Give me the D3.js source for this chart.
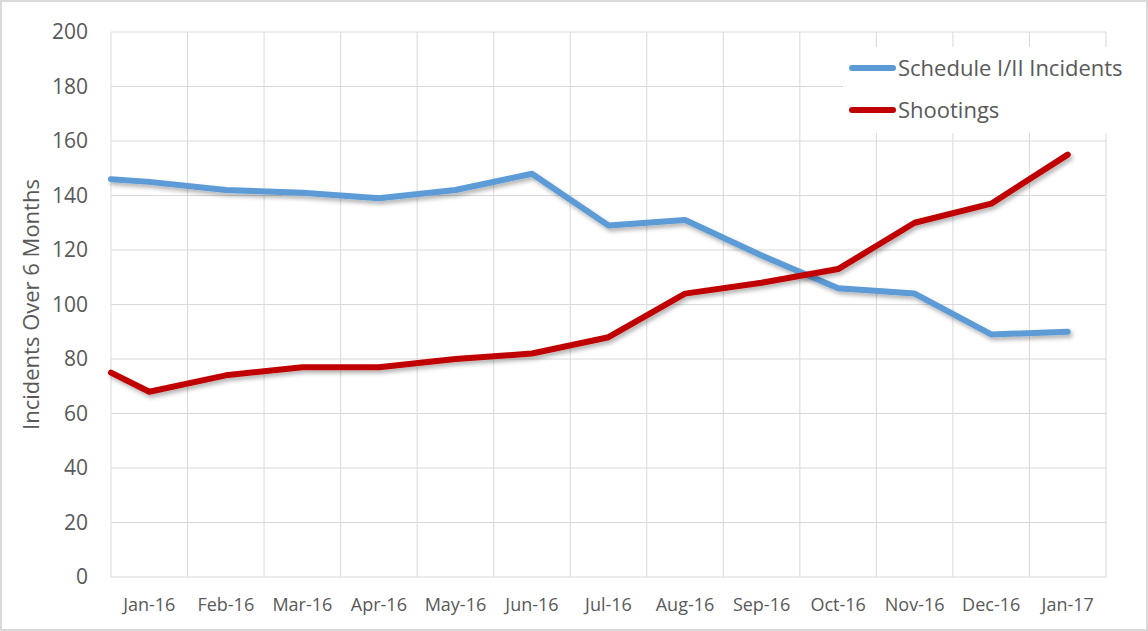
<!DOCTYPE html>
<html>
<head>
<meta charset="utf-8">
<title>Incidents Over 6 Months</title>
<style type="text/css">
	body { margin: 0; background: #fff; }
	svg { display: block; font-family: "Open Sans", sans-serif; }
	.grid line { stroke: #d9d9d9; stroke-width: 1; }
	.tick-label { fill: #595959; }
</style>
<script src="https://cdn.jsdelivr.net/npm/d3@7/dist/d3.min.js"></script>
</head>
<body>
<div id="chart"></div>
<script type="text/javascript">
// month labels on the x axis
var months = ["Jan-16", "Feb-16", "Mar-16", "Apr-16", "May-16", "Jun-16", "Jul-16",
	"Aug-16", "Sep-16", "Oct-16", "Nov-16", "Dec-16", "Jan-17"];
// where each point sits, in months (0 = Jan-16); first point is on the axis edge
var pointMonth = [-0.5, 0, 1, 2, 3, 4, 5, 6, 7, 8, 9, 10, 11, 12];
var schedule = [146, 145, 142, 141, 139, 142, 148, 129, 131, 118, 106, 104, 89, 90];
var shootings = [75, 68, 74, 77, 77, 80, 82, 88, 104, 108, 113, 130, 137, 155];
var yTicks = [0, 20, 40, 60, 80, 100, 120, 140, 160, 180, 200];

var series = [
	{ name: "Schedule I/II Incidents", values: schedule, color: "#5b9bd5" },
	{ name: "Shootings", values: shootings, color: "#c00000" }
];

var width = 1148, height = 631;
// plot area (note: "top" is taken by window.top, so prefix these)
var plotLeft = 111, plotRight = 1106, plotTop = 32, plotBottom = 577;

var svg = d3.select("#chart").append("svg")
	.attr("width", width)
	.attr("height", height);

// outer border
svg.append("rect")
	.attr("x", 1).attr("y", 1)
	.attr("width", width - 2).attr("height", height - 2)
	.attr("fill", "#fff").attr("stroke", "#d9d9d9").attr("stroke-width", 2);

var defs = svg.append("defs");
var filter = defs.append("filter").attr("id", "shadow")
	.attr("x", "-5%").attr("y", "-20%").attr("width", "110%").attr("height", "140%");
filter.append("feDropShadow")
	.attr("dx", 2).attr("dy", 3).attr("stdDeviation", 2)
	.attr("flood-color", "#000").attr("flood-opacity", 0.3);

var x = d3.scaleLinear().domain([-0.5, months.length - 0.5]).range([plotLeft, plotRight]);
var y = d3.scaleLinear().domain([0, 200]).range([plotBottom, plotTop]);

// grid
var grid = svg.append("g").attr("class", "grid");
grid.selectAll(".h").data(yTicks).enter().append("line")
	.attr("x1", plotLeft).attr("x2", plotRight)
	.attr("y1", function(d){ return y(d); })
	.attr("y2", function(d){ return y(d); });
grid.selectAll(".v").data(d3.range(months.length + 1)).enter().append("line")
	.attr("x1", function(d){ return x(d - 0.5); })
	.attr("x2", function(d){ return x(d - 0.5); })
	.attr("y1", plotTop).attr("y2", plotBottom);

// y tick labels
svg.append("g").selectAll("text").data(yTicks).enter().append("text")
	.attr("class", "tick-label")
	.attr("x", 88)
	.attr("y", function(d){ return y(d); })
	.attr("dy", "0.35em")
	.attr("text-anchor", "end")
	.style("font-size", "21px")
	.text(function(d){ return d; });

// x tick labels
svg.append("g").selectAll("text").data(months).enter().append("text")
	.attr("class", "tick-label")
	.attr("x", function(d, i){ return x(i); })
	.attr("y", 605)
	.attr("dy", "0.35em")
	.attr("text-anchor", "middle")
	.style("font-size", "18px")
	.text(function(d){ return d; });

// y axis title
svg.append("text")
	.attr("class", "tick-label")
	.attr("transform", "translate(31," + ((plotTop + plotBottom) / 2) + ") rotate(-90)")
	.attr("dy", "0.35em")
	.attr("text-anchor", "middle")
	.style("font-size", "22px")
	.text("Incidents Over 6 Months");

// lines
var line = d3.line()
	.x(function(d, i){ return x(pointMonth[i]); })
	.y(function(d){ return y(d); });

svg.append("g").selectAll("path").data(series).enter().append("path")
	.attr("d", function(s){ return line(s.values); })
	.attr("fill", "none")
	.attr("stroke", function(s){ return s.color; })
	.attr("stroke-width", 6)
	.attr("stroke-linejoin", "round")
	.attr("stroke-linecap", "round")
	.attr("filter", "url(#shadow)");

// legend
var legend = svg.append("g");
legend.append("rect")
	.attr("x", 843).attr("y", 47)
	.attr("width", 272).attr("height", 86)
	.attr("fill", "#fff");
var item = legend.selectAll(".item").data(series).enter().append("g")
	.attr("transform", function(d, i){ return "translate(852," + (68 + i * 42) + ")"; });
item.append("line")
	.attr("x1", 0).attr("x2", 41)
	.attr("stroke", function(d){ return d.color; })
	.attr("stroke-width", 6)
	.attr("stroke-linecap", "round");
item.append("text")
	.attr("class", "tick-label")
	.attr("x", 46)
	.attr("dy", "0.35em")
	.style("font-size", "22px")
	.text(function(d){ return d.name; });
</script>
</body>
</html>
